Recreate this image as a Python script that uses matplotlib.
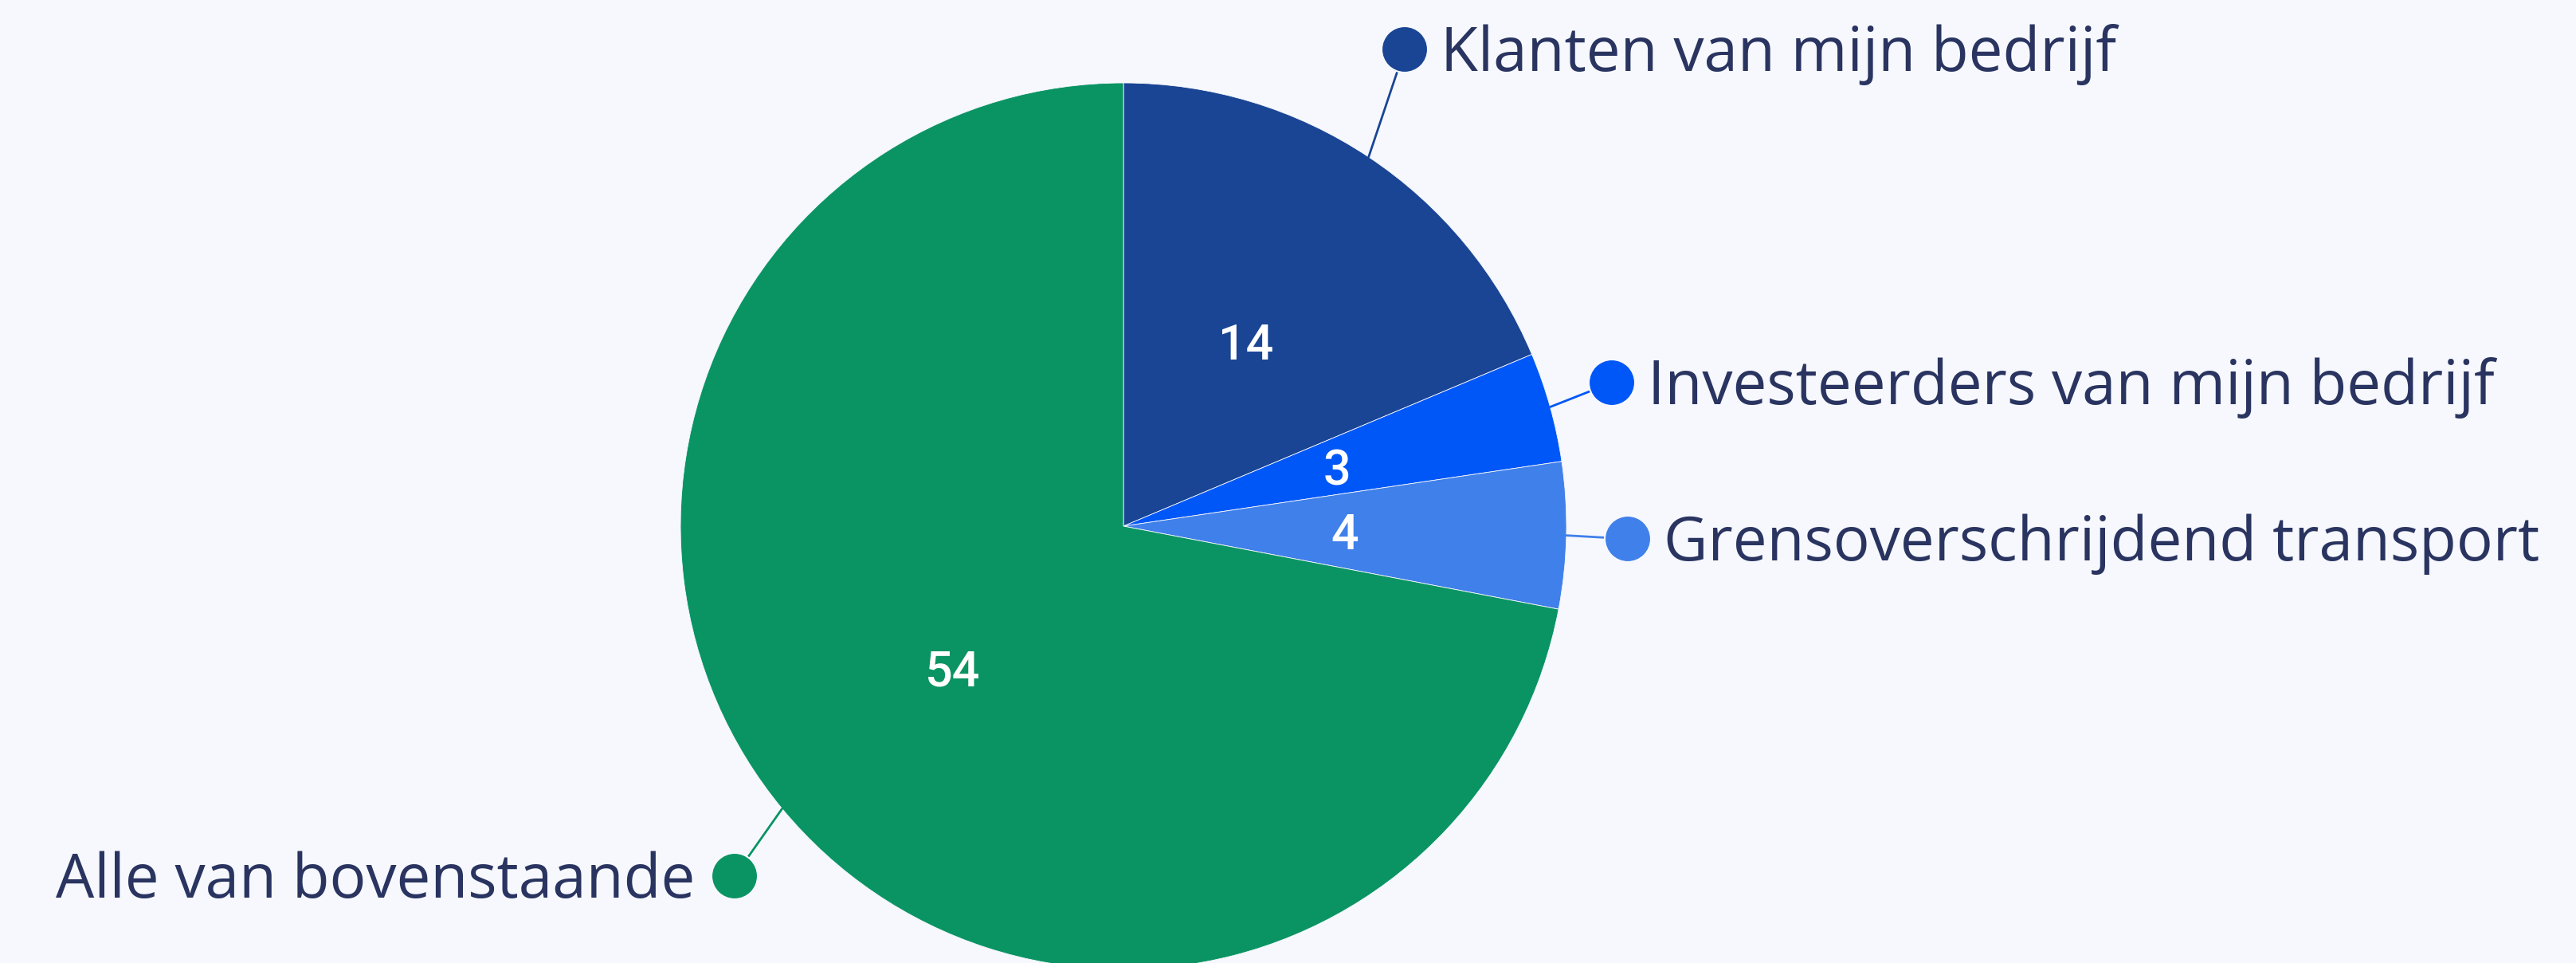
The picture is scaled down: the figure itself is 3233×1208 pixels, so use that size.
import numpy as np
import matplotlib
matplotlib.use("Agg")
import matplotlib.pyplot as plt
from matplotlib.patches import Circle

# ---- data ----
categories = ["Klanten van mijn bedrijf", "Investeerders van mijn bedrijf",
              "Grensoverschrijdend transport", "Alle van bovenstaande"]
values = [14, 3, 4, 54]
colors = ["#1a4594", "#0057f7", "#4080ea", "#0a9463"]

W, H = 3233, 1208
BG = "#f6f8fd"
TXT = "#2a3460"

fig = plt.figure(figsize=(W / 100, H / 100), dpi=100, facecolor=BG)
ax = fig.add_axes([0, 0, 1, 1])
ax.set_facecolor(BG)

cx, cy, R = 1410, H - 660, 556
wedges, _ = ax.pie(values, colors=colors, startangle=90, counterclock=False,
                   center=(cx, cy), radius=R, frame=True,
                   wedgeprops=dict(edgecolor=BG, linewidth=0.6))
ax.set_xlim(0, W)
ax.set_ylim(0, H)
ax.set_aspect("equal")
ax.axis("off")

# label anchor (dot) positions in pixel coords (y down) and text side
anchors = [(1763, 62, "right"), (2023, 480, "right"),
           (2043, 676, "right"), (922, 1099, "left")]

for w, val, lab, col, (dx, dy, side) in zip(wedges, values, categories, colors, anchors):
    mid = np.deg2rad((w.theta1 + w.theta2) / 2)
    # value label inside
    ax.text(cx + 0.5 * R * np.cos(mid), cy + 0.5 * R * np.sin(mid), str(val),
            ha="center", va="center_baseline", color="white",
            fontsize=44, family="Roboto", fontweight="medium")
    # connector
    px, py = cx + R * np.cos(mid), cy + R * np.sin(mid)
    ay = H - dy
    ax.plot([px, dx], [py, ay], color=col, lw=2.0, solid_capstyle="round", zorder=3)
    ax.add_patch(Circle((dx, ay), 29, color=col, zorder=4, ec=BG, lw=1.5))
    if side == "right":
        ax.text(dx + 45, ay - 27, lab, ha="left", va="baseline", color=TXT,
                fontsize=55, family="Open Sans")
    else:
        ax.text(dx - 50, ay - 27, lab, ha="right", va="baseline", color=TXT,
                fontsize=55, family="Open Sans")

fig.savefig("out.png", dpi=100, facecolor=BG)
